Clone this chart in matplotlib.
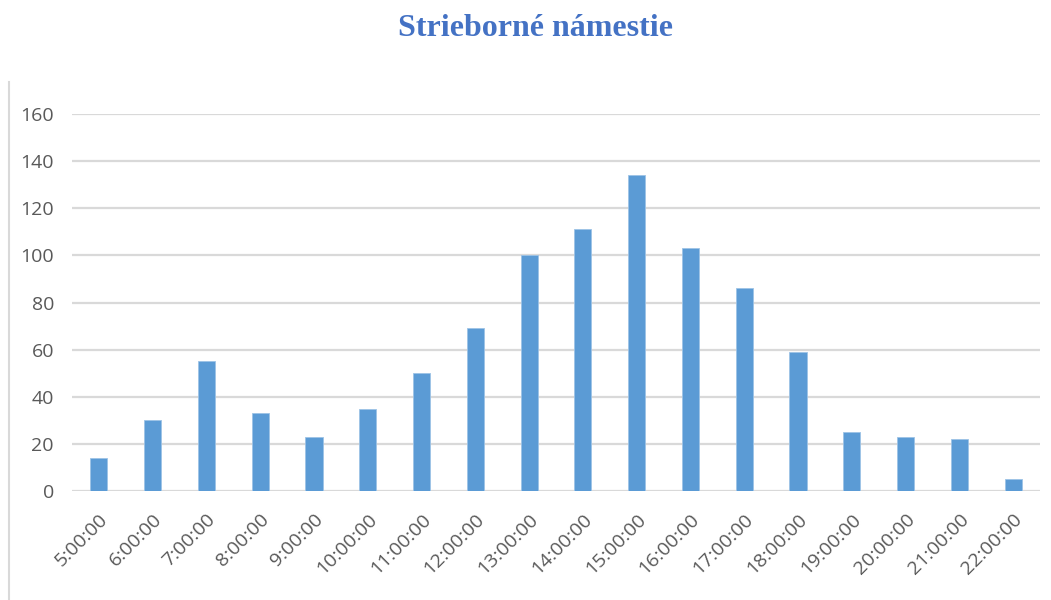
import matplotlib
matplotlib.use("Agg")
import matplotlib.pyplot as plt
from matplotlib.lines import Line2D

categories = ["5:00:00", "6:00:00", "7:00:00", "8:00:00", "9:00:00", "10:00:00",
              "11:00:00", "12:00:00", "13:00:00", "14:00:00", "15:00:00", "16:00:00",
              "17:00:00", "18:00:00", "19:00:00", "20:00:00", "21:00:00", "22:00:00"]
values = [14, 30, 55, 33, 23, 35, 50, 69, 100, 111, 134, 103, 86, 59, 25, 23, 22, 5]
yticks = [0, 20, 40, 60, 80, 100, 120, 140, 160]
title = "Strieborné námestie"

W, H = 1051, 600
fig = plt.figure(figsize=(W / 100, H / 100), dpi=100)
ax = fig.add_axes([72 / W, 1 - 491 / H, (1040 - 72) / W, (491 - 114) / H])

x = list(range(len(categories)))
ax.bar(x, values, width=0.32, color="#5B9BD5", edgecolor="#9DC3E6", linewidth=0.6, zorder=3)
ax.set_xlim(-0.5, len(categories) - 0.5)
ax.set_ylim(0, 160)
ax.set_yticks(yticks)
ax.set_yticklabels([str(v) for v in yticks])
ax.set_xticks(x)
ax.set_xticklabels(categories, rotation=45, ha="right", rotation_mode="anchor")

for s in ax.spines.values():
    s.set_visible(False)
ax.grid(axis="y", color="#D9D9D9", linewidth=1.6, zorder=0)
ax.tick_params(axis="both", length=0, colors="#595959", labelsize=14)
ax.tick_params(axis="y", pad=13)
ax.tick_params(axis="x", pad=14)
for lab in ax.get_xticklabels() + ax.get_yticklabels():
    lab.set_fontfamily("Open Sans")
    lab.set_color("#595959")

fig.text(536 / W, 1 - 28 / H, title, ha="center", va="center", fontsize=23,
         fontweight="bold", color="#4472C4", family="Liberation Serif")

fig.add_artist(Line2D([8.5 / W, 8.5 / W], [0, 1 - 82 / H], color="#D9D9D9",
                      linewidth=1.5, transform=fig.transFigure))

fig.savefig("out.png", dpi=100)
